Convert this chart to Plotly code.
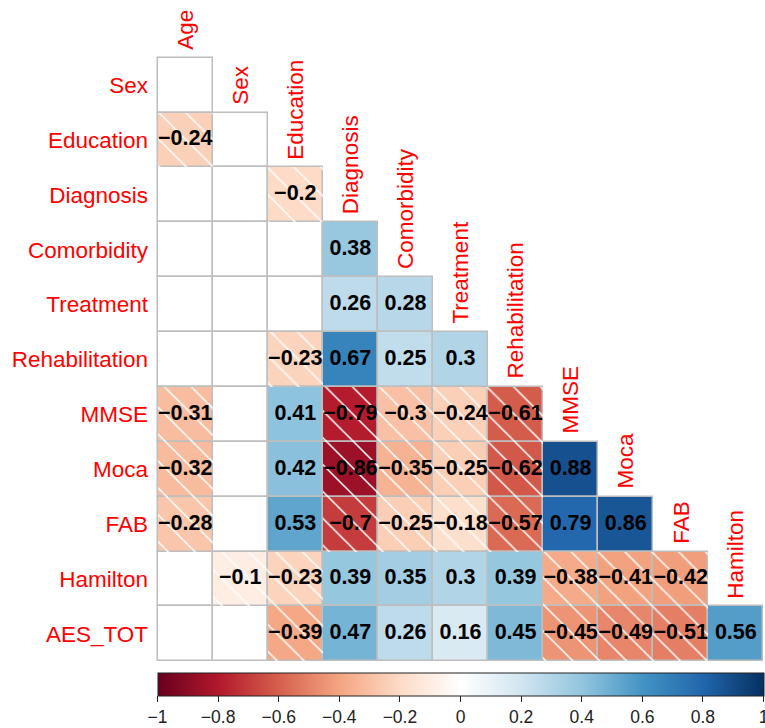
import plotly.graph_objects as go

# Variables of the correlation matrix (lower triangle)
col_vars = ["Age", "Sex", "Education", "Diagnosis", "Comorbidity", "Treatment",
            "Rehabilitation", "MMSE", "Moca", "FAB", "Hamilton"]
row_vars = ["Sex", "Education", "Diagnosis", "Comorbidity", "Treatment",
            "Rehabilitation", "MMSE", "Moca", "FAB", "Hamilton", "AES_TOT"]

# None = correlation not significant (blank cell)
r_sex = [None]
r_education = [-0.24, None]
r_diagnosis = [None, None, -0.2]
r_comorbidity = [None, None, None, 0.38]
r_treatment = [None, None, None, 0.26, 0.28]
r_rehabilitation = [None, None, -0.23, 0.67, 0.25, 0.3]
r_mmse = [-0.31, None, 0.41, -0.79, -0.3, -0.24, -0.61]
r_moca = [-0.32, None, 0.42, -0.86, -0.35, -0.25, -0.62, 0.88]
r_fab = [-0.28, None, 0.53, -0.7, -0.25, -0.18, -0.57, 0.79, 0.86]
r_hamilton = [None, -0.1, -0.23, 0.39, 0.35, 0.3, 0.39, -0.38, -0.41, -0.42]
r_aes_tot = [None, None, -0.39, 0.47, 0.26, 0.16, 0.45, -0.45, -0.49, -0.51, 0.56]

rows = [r_sex, r_education, r_diagnosis, r_comorbidity, r_treatment, r_rehabilitation,
        r_mmse, r_moca, r_fab, r_hamilton, r_aes_tot]

cbar_ticks = [-1, -0.8, -0.6, -0.4, -0.2, 0, 0.2, 0.4, 0.6, 0.8, 1]

rdbu = ["#67001F", "#B2182B", "#D6604D", "#F4A582", "#FDDBC7", "#FFFFFF",
        "#D1E5F0", "#92C5DE", "#4393C3", "#2166AC", "#053061"]
colorscale = [[i / 10, c] for i, c in enumerate(rdbu)]

FONT = "Liberation Sans, Arial, sans-serif"
GRID = "#BEBEBE"
PAD = 0.03  # keeps the outer cell borders inside the plotting area

cx, cy, cv = [], [], []
bx, by = [], []
for i, row in enumerate(rows):
    for j, v in enumerate(row):
        if v is None:
            bx.append(j)
            by.append(i)
        else:
            cx.append(j)
            cy.append(i)
            cv.append(v)

nx = [x for x, v in zip(cx, cv) if v < 0]
ny = [y for y, v in zip(cy, cv) if v < 0]

def fmt(v):
    s = f"{v:g}"
    return s.replace("-", "\u2212")

fig = go.Figure()

# blank (non-significant) cells
fig.add_trace(go.Bar(
    x=bx, y=[1] * len(bx), base=[r - 0.5 for r in by], width=1,
    marker=dict(color="white", line=dict(color=GRID, width=1.5)),
    cliponaxis=False, hoverinfo="skip", showlegend=False,
))

# coloured cells
fig.add_trace(go.Bar(
    x=cx, y=[1] * len(cx), base=[r - 0.5 for r in cy], width=1,
    marker=dict(
        color=cv, colorscale=colorscale, cmin=-1, cmax=1,
        line=dict(color=GRID, width=1.5),
        showscale=True,
        colorbar=dict(
            orientation="h", x=0.0025, xanchor="left", xref="paper",
            y=-0.016, yanchor="top", yref="paper",
            lenmode="pixels", len=606, thickness=23,
            xpad=0, ypad=0, outlinewidth=1, outlinecolor="#222222",
            ticks="outside", ticklen=6, tickcolor="#222222", tickwidth=1,
            tickvals=cbar_ticks, ticktext=[fmt(t) for t in cbar_ticks],
            ticklabeloverflow="allow",
            tickfont=dict(family=FONT, size=17.5, color="#222222"),
        ),
    ),
    cliponaxis=False, hoverinfo="skip", showlegend=False,
))

# white hatching over negative coefficients
fig.add_trace(go.Bar(
    x=nx, y=[1] * len(nx), base=[r - 0.5 for r in ny], width=1,
    marker=dict(
        color="rgba(0,0,0,0)", line=dict(width=0),
        pattern=dict(shape="\\", fillmode="replace", fgcolor="white",
                     bgcolor="rgba(0,0,0,0)", size=19, solidity=0.08),
    ),
    hoverinfo="skip", showlegend=False,
))

# coefficient labels
fig.add_trace(go.Scatter(
    x=cx, y=cy, mode="text", text=[fmt(v) for v in cv],
    textfont=dict(family=FONT, size=21.5, color="black", weight="bold"),
    cliponaxis=False, hoverinfo="skip", showlegend=False,
))

# column names, rotated above the first cell of each column
for j, name in enumerate(col_vars):
    fig.add_annotation(
        x=j, y=j - 0.5, xref="x", yref="y", text=name, showarrow=False,
        textangle=-90, xanchor="center", yanchor="bottom", yshift=6,
        font=dict(family=FONT, size=22.5, color="red"),
    )

fig.update_layout(
    width=765, height=728,
    margin=dict(l=156, r=0, t=56, b=63),
    paper_bgcolor="white", plot_bgcolor="white",
    barmode="overlay", bargap=0,
    xaxis=dict(range=[-0.5 - PAD, 10.5 + PAD], showgrid=False, zeroline=False,
               showticklabels=False, fixedrange=True),
    yaxis=dict(range=[10.5 + PAD, -0.5 - PAD], showgrid=False, zeroline=False,
               tickmode="array", tickvals=list(range(len(row_vars))),
               ticktext=row_vars, ticks="", ticklabelstandoff=7,
               tickfont=dict(family=FONT, size=22.5, color="red"), fixedrange=True),
)

fig.write_html("out.html")
